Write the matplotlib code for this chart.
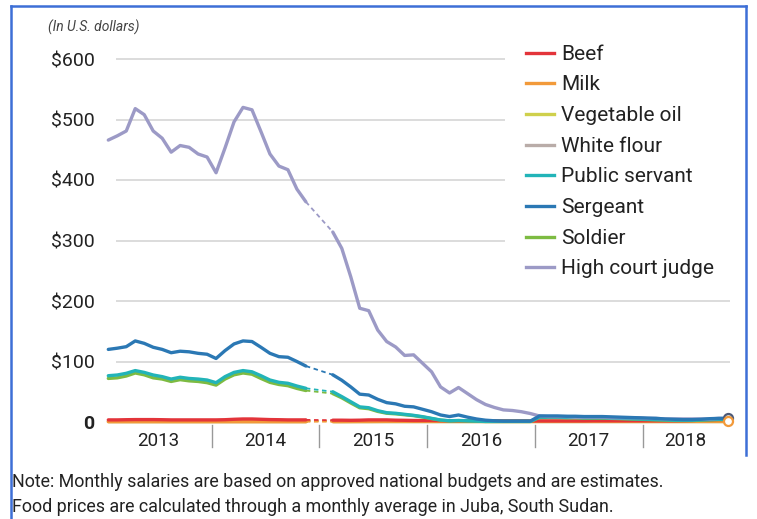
import numpy as np
import matplotlib
matplotlib.use("Agg")
import matplotlib.pyplot as plt
from matplotlib.lines import Line2D

plt.rcParams['font.family'] = ['Roboto', 'DejaVu Sans']

nan = np.nan
# monthly values, Jan 2013 .. Oct 2018 (Dec 2014 and Jan 2015 missing)
months = np.arange(70)
years = ["2013", "2014", "2015", "2016", "2017", "2018"]
yticks = [0, 100, 200, 300, 400, 500, 600]
ytick_labels = ["0", "$100", "$200", "$300", "$400", "$500", "$600"]

judge = [466, 473, 481, 518, 508, 481, 469, 446, 457, 454, 443, 438, 412, 453, 496, 520, 516, 480, 443, 423, 417, 385, 364,
         nan, nan,
         314, 287, 240, 188, 184, 152, 133, 124, 110, 111, 97, 83, 58, 48, 57, 47, 37, 29, 24, 20, 19, 17, 14, 10,
         9, 9, 9, 8, 8, 8, 8, 7, 7, 7, 7, 6, 6, 5, 5, 5, 5, 5, 5, 6, 6]
sergeant = [120, 122, 124.5, 134, 130, 123.5, 120, 114.5, 117, 116, 113.5, 112, 105, 118, 129, 134, 133, 123.5, 113.5, 108, 107, 100, 92.5,
            nan, nan,
            78, 69, 58, 46, 44.6, 37.5, 32, 30, 26, 25, 21, 17, 11.6, 9, 11.6, 8, 5, 3, 2, 1.5, 1.5, 1.5, 1.5, 10,
            10, 10, 9.5, 9.5, 9, 9, 9, 8.5, 8, 7.5, 7, 6.5, 6, 5, 4.5, 4, 4, 4.5, 5.5, 6, 6]
public_servant = [76.5, 77.7, 80.5, 85, 82, 77.7, 75, 71, 74, 72, 71, 69.4, 65, 75, 82, 85, 83, 76.5, 69.4, 65.6, 64, 59.5, 55.7,
                  nan, nan,
                  50, 42, 33.5, 25, 23.6, 18.7, 15.4, 14.4, 12.7, 11, 8.8, 6, 3.3, 2, 2.5, 2, 1.5, 1, 1, 1, 1, 1, 1, 8,
                  8, 8, 7.5, 7.5, 7, 7, 7, 6.5, 6, 5.5, 5, 4.5, 4, 3.5, 3, 3, 3, 3.5, 4, 4.5, 4.5]
soldier = [72, 73, 76, 81, 78, 73, 71, 67, 70, 68, 67, 65, 61, 71, 78, 81, 79, 72, 65.5, 62, 60, 55.5, 52,
           nan, nan,
           47, 40, 31.5, 23.5, 22, 17.5, 14.5, 13.5, 12, 10.5, 8.3, 5.6, 3, 1.8, 2.3, 1.8, 1.3, 0.9, 0.9, 0.9, 0.9, 0.9, 0.9, 7.5,
           7.5, 7.5, 7, 7, 6.5, 6.5, 6.5, 6, 5.5, 5, 4.5, 4, 3.5, 3, 2.5, 2.5, 2.5, 3, 3.5, 4, 4]
beef = [3.5, 3.5, 3.8, 4, 4, 4, 3.8, 3.5, 3.5, 3.5, 3.5, 3.5, 3.5, 3.8, 4.5, 5, 5, 4.5, 4, 3.8, 3.5, 3.5, 3.5,
        nan, nan,
        3, 3, 2.8, 3, 3.5, 3.5, 3.5, 3, 2.8, 2.5, 2.5, 2.5, 2.2, 2, 2, 2, 2, 2, 2, 1.8, 1.8, 1.8, 1.8, 1.8,
        1.8, 1.8, 1.8, 1.8, 1.8, 2, 2, 2, 2, 2, 2, 2, 2, 2, 2, 2.2, 2.5, 3, 3.5, 4, 4]
milk = [0.5, 0.5, 0.5, 0.5, 0.5, 0.5, 0.5, 0.5, 0.5, 0.5, 0.5, 0.5, 0.5, 0.5, 0.5, 0.5, 0.5, 0.5, 0.5, 0.5, 0.5, 0.5, 0.5,
        nan, nan,
        0.6, 0.6, 0.7, 0.8, 0.8, 0.9, 1, 1, 1, 1, 1, 1, 1, 1, 1, 1, 1, 1, 1, 1, 1, 1, 1, 1,
        1, 1, 1, 1, 1, 1, 1, 1, 1, 1, 1, 1, 1, 1, 1, 1, 1, 1, 1, 1, 1]
vegetable_oil = [1.5] * 23 + [nan, nan] + [1.5] * 45
white_flour = [1.0] * 23 + [nan, nan] + [1.0] * 45

series = [
    ("White flour", white_flour, "#b9aca8"),
    ("Vegetable oil", vegetable_oil, "#cfd04c"),
    ("Milk", milk, "#f29a3a"),
    ("Beef", beef, "#e3343a"),
    ("Soldier", soldier, "#7dbb42"),
    ("Public servant", public_servant, "#22b4b8"),
    ("High court judge", judge, "#9c9ac6"),
    ("Sergeant", sergeant, "#2b78b4"),
]
legend_order = ["Beef", "Milk", "Vegetable oil", "White flour", "Public servant", "Sergeant", "Soldier", "High court judge"]

W, H = 757, 519
fig = plt.figure(figsize=(W / 100, H / 100), dpi=100)

def fx(p):
    return p / W

def fy(p):
    return 1 - p / H

# axes mapping
ax_l, ax_r, ax_t, ax_b = 100, 745, 50, 432
ax = fig.add_axes([fx(ax_l), fy(ax_b), fx(ax_r - ax_l), (ax_b - ax_t) / H])
x0pix, dxpix = 108.3, 8.98
ax.set_xlim((ax_l - x0pix) / dxpix, (ax_r - x0pix) / dxpix)
ppd = 0.605
ax.set_ylim(-(ax_b - 422) / ppd, 600 + (59 - ax_t) / ppd)
for s in ax.spines.values():
    s.set_visible(False)

# gridlines
ax.hlines(yticks[1:], 0.85, 69.2, color="#dcdcdc", lw=1.4, zorder=0)

ax.set_yticks(yticks)
ax.set_yticklabels(ytick_labels, fontsize=14, color="#222222")
ax.tick_params(axis="y", length=0, pad=4)
ax.get_yticklabels()[0].set_fontweight("bold")
ax.set_xticks([])

lw = 2.4
for name, vals, col in series:
    v = np.array(vals, dtype=float)
    ax.plot(months, v, color=col, lw=lw, solid_capstyle="round", solid_joinstyle="round", zorder=3)
    ax.plot(months[[22, 25]], v[[22, 25]], color=col, lw=1.3, ls=(0, (2.5, 2)), zorder=3)

# end markers
ax.plot(months[-1], np.array(sergeant)[-1], marker="o", ms=6.5, mfc="#e8e4dc", mec="#4d5a78", mew=1.6, zorder=5)
ax.plot(months[-1], np.array(milk)[-1], marker="o", ms=6.5, mfc="white", mec="#f29a3a", mew=1.6, zorder=5)

# year separators and labels
xt = ax.get_xaxis_transform()
seps = [11.5, 23.5, 35.5, 47.5, 59.5]
for s in seps:
    ax.plot([s, s], [(ax_b - 425) / (ax_b - ax_t), (ax_b - 447) / (ax_b - ax_t)], transform=xt,
            color="#999999", lw=1, clip_on=False)
label_pos = [5.5, 17.5, 29.5, 41.5, 53.5, 64.25]
for yr, p in zip(years, label_pos):
    ax.text(p, (ax_b - 441) / (ax_b - ax_t), yr, transform=xt, ha="center", va="center",
            fontsize=13.5, color="#222222")

# legend
handles = {name: Line2D([], [], color=col, lw=2.4) for name, _, col in series}
leg = fig.legend([handles[n] for n in legend_order], legend_order, loc="upper left",
                 bbox_to_anchor=(fx(505), fy(24)), bbox_transform=fig.transFigure,
                 fontsize=15, frameon=True, framealpha=1, edgecolor="white", facecolor="white",
                 borderpad=1.0, borderaxespad=0, handlelength=1.35, handletextpad=0.33,
                 labelspacing=0.56)
for t in leg.get_texts():
    t.set_color("#222222")
leg.get_frame().set_linewidth(0)

# texts
fig.text(fx(48), fy(27), "(In U.S. dollars)", fontsize=10, style="italic", color="#444444", va="center")
fig.text(fx(12), fy(482), "Note: Monthly salaries are based on approved national budgets and are estimates.",
         fontsize=12.9, color="#222222", va="center")
fig.text(fx(12), fy(507), "Food prices are calculated through a monthly average in Juba, South Sudan.",
         fontsize=12.9, color="#222222", va="center")

# frame border
bc = "#3d6fd6"
fig.add_artist(Line2D([fx(11), fx(11)], [fy(6), fy(519)], color=bc, lw=1.8))
fig.add_artist(Line2D([fx(11), fx(746)], [fy(6), fy(6)], color=bc, lw=1.8))
fig.add_artist(Line2D([fx(746), fx(746)], [fy(6), fy(455)], color=bc, lw=1.8))

fig.savefig("out.png", dpi=100)
